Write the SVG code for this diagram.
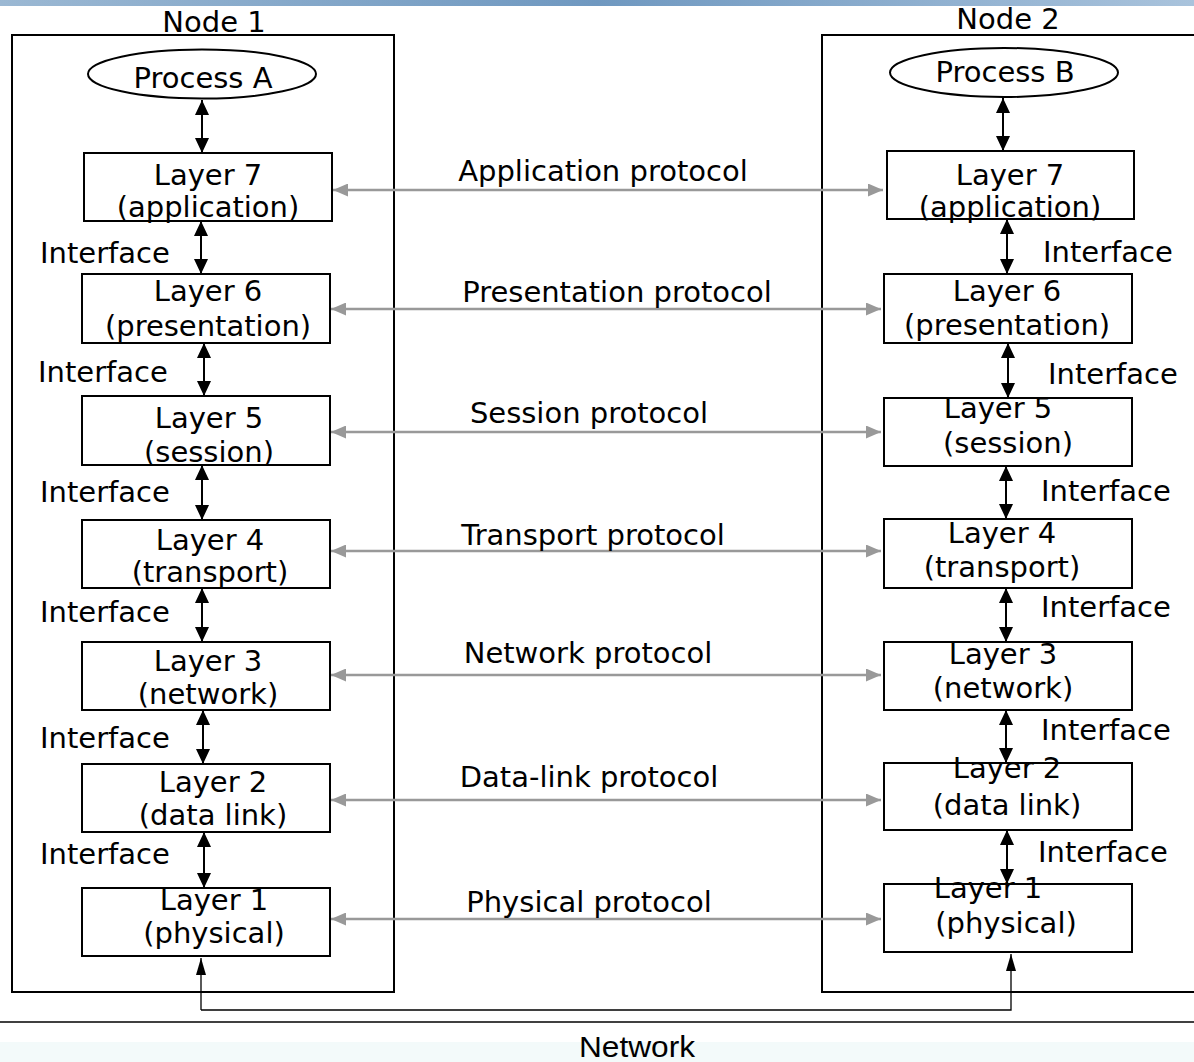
<svg xmlns="http://www.w3.org/2000/svg" width="1194" height="1062" viewBox="0 0 1194 1062">
<style>
  text { font-family: "DejaVu Sans", Verdana, sans-serif; font-size: 29px; fill: #000; }
  .c { text-anchor: middle; }
  .box { fill: #fff; stroke: #000; stroke-width: 2; }
  .node { fill: none; stroke: #000; stroke-width: 2; }
  .iface { stroke: #000; stroke-width: 2; fill: none; marker-start: url(#bk); marker-end: url(#bk); }
  .proto { stroke: #999; stroke-width: 2.5; fill: none; marker-start: url(#gr); marker-end: url(#gr); }
  .wire { stroke: #000; stroke-width: 1.3; fill: none; marker-end: url(#thin); }
</style>
<defs>
  <linearGradient id="topband" x1="0" y1="0" x2="1" y2="0">
    <stop offset="0" stop-color="#9bb8d3"/>
    <stop offset="0.5" stop-color="#6f98c0"/>
    <stop offset="1" stop-color="#a9c3dc"/>
  </linearGradient>
  <marker id="bk" viewBox="0 0 15 14" refX="15" refY="7" markerWidth="15" markerHeight="14" markerUnits="userSpaceOnUse" orient="auto-start-reverse">
    <path d="M0,0 L15,7 L0,14 z" fill="#000"/>
  </marker>
  <marker id="gr" viewBox="0 0 15 13" refX="15" refY="6.5" markerWidth="15" markerHeight="13" markerUnits="userSpaceOnUse" orient="auto-start-reverse">
    <path d="M0,0 L15,6.5 L0,13 z" fill="#999"/>
  </marker>
  <marker id="thin" viewBox="0 0 17 10" refX="17" refY="5" markerWidth="17" markerHeight="10" markerUnits="userSpaceOnUse" orient="auto">
    <path d="M0,0 L17,5 L0,10 z" fill="#000"/>
  </marker>
</defs>

<rect x="0" y="0" width="1194" height="1062" fill="#fff"/>
<rect x="0" y="0" width="1194" height="6" fill="url(#topband)"/>
<rect x="0" y="1042" width="1194" height="20" fill="#f3fafa"/>

<!-- Node containers -->
<g id="node1">
  <rect class="node" x="12" y="35" width="382" height="957"/>
  <text class="c" x="214" y="32">Node 1</text>
</g>
<g id="node2">
  <rect class="node" x="822" y="35" width="390" height="957"/>
  <text class="c" x="1008" y="29">Node 2</text>
</g>

<!-- Processes -->
<g id="processA">
  <ellipse cx="202" cy="74" rx="114" ry="24.5" fill="#fff" stroke="#000" stroke-width="2"/>
  <text class="c" x="203" y="88">Process A</text>
</g>
<g id="processB">
  <ellipse cx="1004" cy="72.5" rx="114" ry="24.5" fill="#fff" stroke="#000" stroke-width="2"/>
  <text class="c" x="1005" y="82">Process B</text>
</g>

<!-- Node 1 layers -->
<g id="n1-layer7"><rect class="box" x="84" y="153" width="248" height="68"/><text class="c" x="208" y="185">Layer 7</text><text class="c" x="208" y="217">(application)</text></g>
<g id="n1-layer6"><rect class="box" x="82" y="274" width="248" height="69"/><text class="c" x="208" y="301">Layer 6</text><text class="c" x="208" y="336">(presentation)</text></g>
<g id="n1-layer5"><rect class="box" x="82" y="396" width="248" height="69"/><text class="c" x="209" y="428">Layer 5</text><text class="c" x="209" y="462">(session)</text></g>
<g id="n1-layer4"><rect class="box" x="82" y="520" width="248" height="68"/><text class="c" x="210" y="550">Layer 4</text><text class="c" x="210" y="582">(transport)</text></g>
<g id="n1-layer3"><rect class="box" x="82" y="642" width="248" height="68"/><text class="c" x="208" y="671">Layer 3</text><text class="c" x="208" y="704">(network)</text></g>
<g id="n1-layer2"><rect class="box" x="82" y="764" width="248" height="68"/><text class="c" x="213" y="792">Layer 2</text><text class="c" x="213" y="825">(data link)</text></g>
<g id="n1-layer1"><rect class="box" x="82" y="888" width="248" height="68"/><text class="c" x="214" y="910">Layer 1</text><text class="c" x="214" y="943">(physical)</text></g>

<!-- Node 2 layers -->
<g id="n2-layer7"><rect class="box" x="887" y="151" width="247" height="68"/><text class="c" x="1010" y="185">Layer 7</text><text class="c" x="1010" y="217">(application)</text></g>
<g id="n2-layer6"><rect class="box" x="884" y="274" width="248" height="69"/><text class="c" x="1007" y="301">Layer 6</text><text class="c" x="1007" y="335">(presentation)</text></g>
<g id="n2-layer5"><rect class="box" x="884" y="398" width="248" height="68"/><text class="c" x="998" y="418">Layer 5</text><text class="c" x="1008" y="453">(session)</text></g>
<g id="n2-layer4"><rect class="box" x="884" y="519" width="248" height="69"/><text class="c" x="1002" y="543">Layer 4</text><text class="c" x="1002" y="577">(transport)</text></g>
<g id="n2-layer3"><rect class="box" x="884" y="642" width="248" height="68"/><text class="c" x="1003" y="664">Layer 3</text><text class="c" x="1003" y="698">(network)</text></g>
<g id="n2-layer2"><rect class="box" x="884" y="763" width="248" height="67"/><text class="c" x="1007" y="778">Layer 2</text><text class="c" x="1007" y="815">(data link)</text></g>
<g id="n2-layer1"><rect class="box" x="884" y="884" width="248" height="68"/><text class="c" x="988" y="898">Layer 1</text><text class="c" x="1006" y="933">(physical)</text></g>

<!-- Connectors -->
<g id="connectors">
  <!-- Node 1 vertical interfaces -->
  <line class="iface" x1="202" y1="100" x2="202" y2="153"/>
  <line class="iface" x1="201" y1="221" x2="201" y2="274"/>
  <line class="iface" x1="204" y1="343" x2="204" y2="396"/>
  <line class="iface" x1="202" y1="465" x2="202" y2="520"/>
  <line class="iface" x1="202" y1="588" x2="202" y2="642"/>
  <line class="iface" x1="203" y1="710" x2="203" y2="764"/>
  <line class="iface" x1="204" y1="832" x2="204" y2="888"/>
  <!-- Node 2 vertical interfaces -->
  <line class="iface" x1="1003" y1="98" x2="1003" y2="151"/>
  <line class="iface" x1="1007" y1="219" x2="1007" y2="274"/>
  <line class="iface" x1="1008" y1="343" x2="1008" y2="398"/>
  <line class="iface" x1="1006" y1="466" x2="1006" y2="519"/>
  <line class="iface" x1="1006" y1="588" x2="1006" y2="642"/>
  <line class="iface" x1="1006" y1="710" x2="1006" y2="763"/>
  <line class="iface" x1="1007" y1="830" x2="1007" y2="884"/>
  <!-- Peer protocols -->
  <line class="proto" x1="333" y1="190" x2="883" y2="190"/>
  <line class="proto" x1="331" y1="309" x2="881" y2="309"/>
  <line class="proto" x1="331" y1="432" x2="881" y2="432"/>
  <line class="proto" x1="331" y1="551" x2="881" y2="551"/>
  <line class="proto" x1="331" y1="675" x2="881" y2="675"/>
  <line class="proto" x1="331" y1="800" x2="881" y2="800"/>
  <line class="proto" x1="331" y1="919" x2="881" y2="919"/>
  <!-- Physical link through network -->
  <polyline class="wire" points="201,1010 201,958"/>
  <polyline class="wire" points="201,1010 1011,1010 1011,954"/>
  <line x1="0" y1="1022" x2="1194" y2="1022" stroke="#000" stroke-width="1.5"/>
</g>

<!-- Labels -->
<g id="labels">
  <text x="40" y="263">Interface</text>
  <text x="38" y="382">Interface</text>
  <text x="40" y="502">Interface</text>
  <text x="40" y="622">Interface</text>
  <text x="40" y="748">Interface</text>
  <text x="40" y="864">Interface</text>
  <text x="1043" y="262">Interface</text>
  <text x="1048" y="384">Interface</text>
  <text x="1041" y="501">Interface</text>
  <text x="1041" y="617">Interface</text>
  <text x="1041" y="740">Interface</text>
  <text x="1038" y="862">Interface</text>
  <text class="c" x="603" y="181">Application protocol</text>
  <text class="c" x="617" y="302">Presentation protocol</text>
  <text class="c" x="589" y="423">Session protocol</text>
  <text class="c" x="593" y="545">Transport protocol</text>
  <text class="c" x="588" y="663">Network protocol</text>
  <text class="c" x="589" y="787">Data-link protocol</text>
  <text class="c" x="589" y="912">Physical protocol</text>
  <text class="c" x="637" y="1057" style="font-family:'Liberation Sans Narrow','Liberation Sans',Arial,sans-serif;font-size:30px" textLength="116" lengthAdjust="spacingAndGlyphs">Network</text>
</g>
</svg>
